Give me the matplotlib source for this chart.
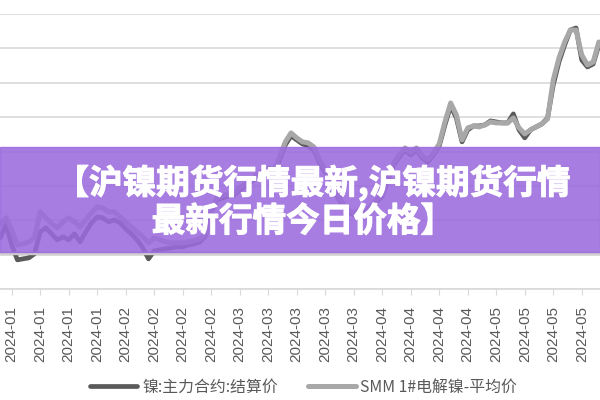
import matplotlib
matplotlib.use("Agg")
import matplotlib.pyplot as plt
from matplotlib.patches import Rectangle
import matplotlib.patheffects as pe

plt.rcParams['font.family'] = ['Noto Sans CJK SC', 'DejaVu Sans']

# ----------------------------
# Data (yuan/ton)
# ----------------------------
settle = [127440, 129330, 126420, 124240, 124390, 124530, 125120, 128310, 128900, 128020,
          127150, 127590, 127150, 128020, 126860, 128310, 129620, 130490, 130350, 129770,
          130060, 129620, 128750, 128020, 127150, 125990, 124390, 125550, 125700, 125840,
          125990, 126130, 126130, 126420, 126570, 126860, 127730, 131220, 132970, 133260,
          133550, 133690, 134420, 135000, 135580, 136310, 136890, 137330, 136740, 138780,
          140960, 142270, 141690, 141100, 140810, 140230, 138340, 137030, 135870, 133690,
          132240, 131220, 130780, 131220, 130780, 131800, 132670, 133550, 135870, 138050,
          139220, 140230, 139510, 140230, 139070, 138490, 139510, 140810, 143870, 146630,
          144880, 141400, 143140, 143720, 143720, 143870, 144450, 144300, 144160, 144160,
          145470, 143140, 141980, 143140, 143580, 144010, 144880, 149680, 153020, 155490,
          157670, 157970, 153310, 152300, 152730, 155490]

smm = [129330, 130350, 128600, 126420, 126570, 126860, 127440, 131220, 130350, 129480,
       128900, 129770, 130350, 129770, 129040, 130060, 131080, 131950, 131800, 131220,
       131220, 130490, 129770, 129040, 128310, 127590, 126710, 127440, 127150, 126860,
       126710, 126710, 126710, 126860, 127000, 127300, 128020, 131220, 133260, 133550,
       133840, 133980, 134710, 135290, 135870, 136600, 137180, 137620, 137180, 139220,
       141400, 142700, 141980, 141400, 141250, 140670, 138780, 137330, 136160, 133980,
       132530, 131510, 131080, 131510, 131080, 132100, 132970, 133840, 136160, 138340,
       139510, 140520, 139800, 140520, 139360, 138780, 139800, 141100, 144300, 147060,
       145320, 141690, 143430, 143720, 143580, 143870, 144300, 144160, 144160, 144160,
       144880, 143430, 142560, 143140, 143580, 144010, 144740, 150410, 153600, 155930,
       157670, 157670, 154040, 152590, 153020, 155930]

tick_labels = (["2024-01"] * 4 + ["2024-02"] * 4 + ["2024-03"] * 5
               + ["2024-04"] * 4 + ["2024-05"] * 4)
tick_pos = [2 + 5 * k for k in range(len(tick_labels))]

series_names = ["镍:主力合约:结算价", "SMM 1#电解镍-平均价"]
title_lines = ["【沪镍期货行情最新,沪镍期货行情", "最新行情今日价格】"]

# ----------------------------
# Plot
# ----------------------------
fig = plt.figure(figsize=(6, 4), dpi=100)
ax = fig.add_axes([0.0, 0.2775, 1.0, 0.6875])

x = list(range(len(settle)))
ax.plot(x, settle, color="#5a5a5a", lw=3.4, solid_capstyle="round", zorder=3,
        label=series_names[0])
ax.plot(x, smm, color="#a8a8a8", lw=3.6, solid_capstyle="round", zorder=4,
        label=series_names[1])

ax.set_xlim(-0.05, 105.2)
ax.set_ylim(120000, 160000)
ax.set_yticks(range(120000, 160001, 5000))
ax.yaxis.grid(True, color="#d9d9d9", lw=1.2)
ax.set_axisbelow(True)
ax.tick_params(axis="y", left=False, labelleft=False)

ax.set_xticks(tick_pos)
ax.set_xticklabels(tick_labels, rotation=90, fontsize=11, color="#595959",
                   family=["Liberation Sans", "DejaVu Sans"])
ax.tick_params(axis="x", length=4, color="#d9d9d9", pad=8)

for s in ["top", "right", "left"]:
    ax.spines[s].set_visible(False)
ax.spines["bottom"].set_color("#d9d9d9")
ax.spines["bottom"].set_linewidth(1.2)

# purple title band over the chart
fig.patches.append(Rectangle((0, 1 - 254 / 400), 1, 2 / 400, transform=fig.transFigure,
                             color="#cfcfcf", zorder=9))
fig.patches.append(Rectangle((0, 1 - 252 / 400), 1, 105 / 400, transform=fig.transFigure,
                             color="#9b6bdd", alpha=0.88, zorder=10))
thick = [pe.withStroke(linewidth=0.8, foreground="white")]
fig.text(313 / 600, 1 - 183 / 400, title_lines[0], ha="center", va="center",
         color="white", fontsize=24.2, fontweight="bold", zorder=11, path_effects=thick)
fig.text(303 / 600, 1 - 222 / 400, title_lines[1], ha="center", va="center",
         color="white", fontsize=24.2, fontweight="bold", zorder=11, path_effects=thick)

fig.legend(loc="center", bbox_to_anchor=(0.506, 0.0325), ncol=2, frameon=False,
           fontsize=11.4, handlelength=3.0, handletextpad=0.3, columnspacing=1.9,
           labelcolor="#595959")

plt.savefig("out.png", dpi=100)
